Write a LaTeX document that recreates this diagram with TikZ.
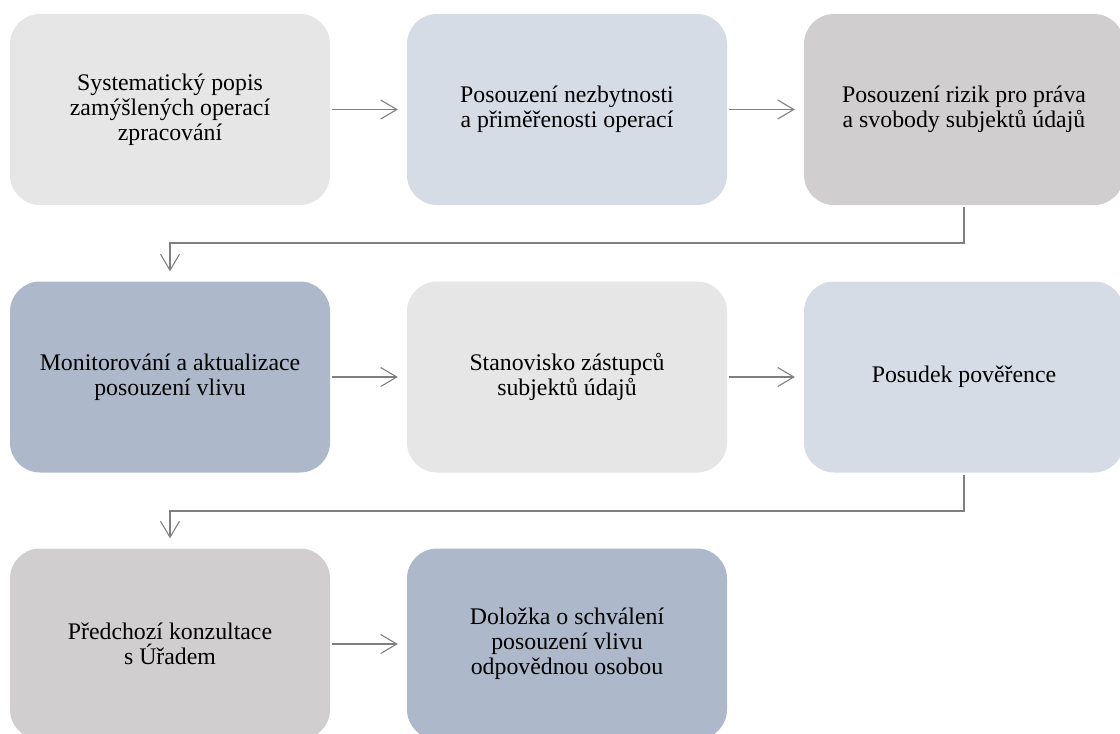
\documentclass[tikz,border=0pt]{standalone}
\usepackage{fontspec}
\setmainfont{Liberation Serif}
\usetikzlibrary{arrows.meta}
\definecolor{fillA}{HTML}{E7E6E6}
\definecolor{fillB}{HTML}{D6DCE5}
\definecolor{fillC}{HTML}{D0CECE}
\definecolor{fillD}{HTML}{ADB9CA}
\definecolor{linkgray}{HTML}{7F7F7F}
\begin{document}
\begin{tikzpicture}[x=1pt,y=-1pt,
  stepbox/.style={rectangle, rounded corners=30pt, minimum width=320pt,
    minimum height=191pt, inner sep=0pt, align=center,
    font=\fontsize{23.8}{25}\selectfont, text=black},
  flow/.style={draw=linkgray, line width=1.3pt,
    -{Straight Barb[length=16pt,width=19pt,line width=1.1pt]}}]
\useasboundingbox (0,0) rectangle (1120,734);
% row 1
\node[stepbox, fill=fillA] (a1) at (170,109.5) {Systematický popis\\zamýšlených operací\\zpracování};
\node[stepbox, fill=fillB] (a2) at (567,109.5) {Posouzení nezbytnosti\\a přiměřenosti operací};
\node[stepbox, fill=fillC] (a3) at (964,109.5) {Posouzení rizik pro práva\\a svobody subjektů údajů};
% row 2
\node[stepbox, fill=fillD] (b1) at (170,377) {Monitorování a aktualizace\\posouzení vlivu};
\node[stepbox, fill=fillA] (b2) at (567,377) {Stanovisko zástupců\\subjektů údajů};
\node[stepbox, fill=fillB] (b3) at (964,377) {Posudek pověřence};
% row 3
\node[stepbox, fill=fillC] (c1) at (170,644) {Předchozí konzultace\\s Úřadem};
\node[stepbox, fill=fillD] (c2) at (567,644) {Doložka o schválení\\posouzení vlivu\\odpovědnou osobou};
% turn-back levels between rows
\coordinate (k1) at (0,243);
\coordinate (k2) at (0,511);
% connectors
\draw[flow] ([xshift=2pt]a1.east) -- ([xshift=-9pt]a2.west);
\draw[flow] ([xshift=2pt]a2.east) -- ([xshift=-9pt]a3.west);
\draw[flow] ([yshift=-2pt]a3.south) -- (a3.south |- k1) -| ([yshift=10pt]b1.north);
\draw[flow] ([xshift=2pt]b1.east) -- ([xshift=-9pt]b2.west);
\draw[flow] ([xshift=2pt]b2.east) -- ([xshift=-9pt]b3.west);
\draw[flow] ([yshift=-2pt]b3.south) -- (b3.south |- k2) -| ([yshift=10pt]c1.north);
\draw[flow] ([xshift=2pt]c1.east) -- ([xshift=-9pt]c2.west);
\end{tikzpicture}
\end{document}
